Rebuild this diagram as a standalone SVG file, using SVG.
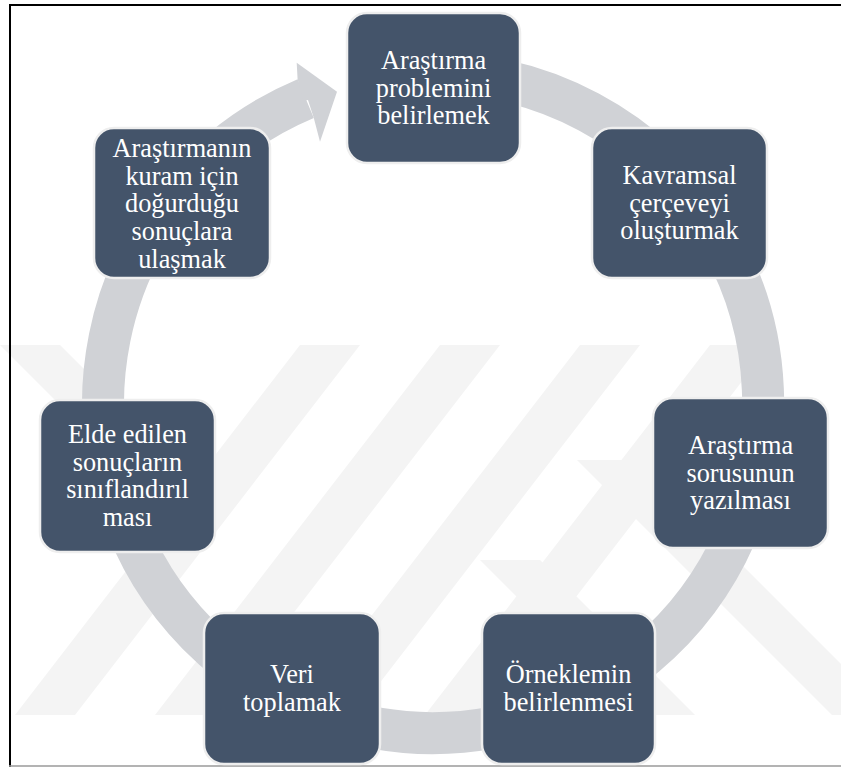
<svg xmlns="http://www.w3.org/2000/svg" width="841" height="767" viewBox="0 0 841 767">
  <style>
    .node { fill: #44546A; stroke: #EEEEEE; stroke-width: 2.5; }
    .t { font-family: 'Liberation Serif', 'Times New Roman', serif; font-size: 26.3px; fill: #FFFFFF; text-anchor: middle; }
    .wm { fill: #F4F4F4; }
    .ring { fill: none; stroke: #D0D2D6; stroke-width: 42; }
    .head { fill: #D0D2D6; }
  </style>
  <defs>
    <clipPath id="wmclip"><rect x="0" y="345" width="841" height="370"/></clipPath>
  </defs>
  <rect x="0" y="0" width="841" height="767" fill="#FFFFFF"/>
  <g id="watermark" clip-path="url(#wmclip)">
    <polygon class="wm" points="300,345 360,345 75,715 15,715"/>
    <polygon class="wm" points="440,345 500,345 215,715 155,715"/>
    <polygon class="wm" points="580,345 640,345 355,715 295,715"/>
    <polygon class="wm" points="710,345 770,345 485,715 425,715"/>
    <polygon class="wm" points="0,345 60,345 200,485 140,485"/>
    <polygon class="wm" points="577,460 637,460 892,715 832,715"/>
    <polygon class="wm" points="480,560 540,560 695,715 635,715"/>
  </g>
  <g id="frame" fill="none">
    <line x1="9" y1="5" x2="841" y2="5" stroke="#000000" stroke-width="2"/>
    <line x1="10" y1="4" x2="10" y2="767" stroke="#000000" stroke-width="2"/>
    <line x1="9" y1="766" x2="841" y2="766" stroke="#9A9A9A" stroke-width="1.5"/>
  </g>
  <g id="connectors">
    <path class="ring" d="M444.5,73.2 A330,330 0 1 1 305.7,98.6"/>
    <polygon class="head" points="303,101 297.6,79.2 296.7,62.7 337,91.7 320,141.7 313.8,118 308,100"/>
  </g>
  <g id="n1">
    <rect class="node" x="347" y="13" width="173" height="150" rx="20"/>
    <text class="t" x="433.5" y="69">Araştırma</text>
    <text class="t" x="433.5" y="96.7">problemini</text>
    <text class="t" x="433.5" y="124.4">belirlemek</text>
  </g>
  <g id="n2">
    <rect class="node" x="592" y="128" width="175" height="150" rx="20"/>
    <text class="t" x="679.5" y="184">Kavramsal</text>
    <text class="t" x="679.5" y="211.7">çerçeveyi</text>
    <text class="t" x="679.5" y="239.4">oluşturmak</text>
  </g>
  <g id="n3">
    <rect class="node" x="653" y="398" width="175" height="150" rx="20"/>
    <text class="t" x="740.5" y="454">Araştırma</text>
    <text class="t" x="740.5" y="481.7">sorusunun</text>
    <text class="t" x="740.5" y="509.4">yazılması</text>
  </g>
  <g id="n4">
    <rect class="node" x="482" y="613" width="173" height="151" rx="20"/>
    <text class="t" x="568.5" y="683">Örneklemin</text>
    <text class="t" x="568.5" y="710.7">belirlenmesi</text>
  </g>
  <g id="n5">
    <rect class="node" x="204" y="613" width="176" height="151" rx="20"/>
    <text class="t" x="292" y="683">Veri</text>
    <text class="t" x="292" y="710.7">toplamak</text>
  </g>
  <g id="n6">
    <rect class="node" x="40" y="400" width="175" height="152" rx="20"/>
    <text class="t" x="127.5" y="443">Elde edilen</text>
    <text class="t" x="127.5" y="470.7">sonuçların</text>
    <text class="t" x="127.5" y="498.4">sınıflandırıl</text>
    <text class="t" x="127.5" y="526.1">ması</text>
  </g>
  <g id="n7">
    <rect class="node" x="94" y="128" width="176" height="150" rx="20"/>
    <text class="t" x="182" y="157">Araştırmanın</text>
    <text class="t" x="182" y="184.7">kuram için</text>
    <text class="t" x="182" y="212.4">doğurduğu</text>
    <text class="t" x="182" y="240.1">sonuçlara</text>
    <text class="t" x="182" y="267.8">ulaşmak</text>
  </g>
</svg>
